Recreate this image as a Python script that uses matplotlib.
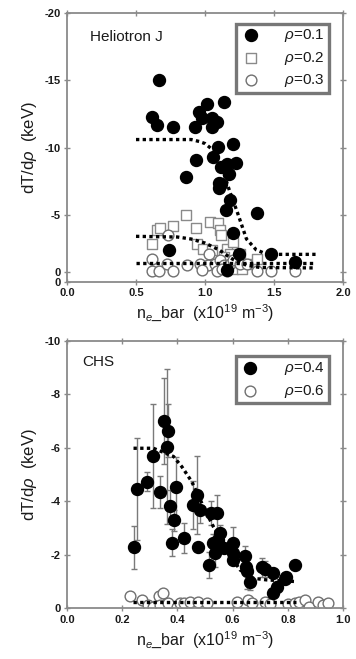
import numpy as np
import matplotlib
matplotlib.use("Agg")
import matplotlib.pyplot as plt

plt.rcParams.update({
    "font.family": ["Liberation Sans", "DejaVu Sans"],
    "mathtext.fontset": "custom",
    "mathtext.rm": "Liberation Sans",
    "mathtext.it": "Liberation Sans:italic",
})

# --- Heliotron J (top panel) ------------------------------------------------ #
hj_r1_x = [0.670, 0.614, 0.655, 0.771, 0.860, 0.737, 0.928, 0.959, 0.981, 1.012,
           1.048, 1.050, 1.089, 1.137, 0.935, 1.096, 1.060, 1.205, 1.113, 1.157,
           1.222, 1.176, 1.101, 1.116, 1.101, 1.181, 1.149, 1.378, 1.200, 1.246,
           1.475, 1.648, 1.157]
hj_r1_y = [-15.05, -12.26, -11.67, -11.57, -7.79, -2.41, -11.57, -12.64, -12.19, -13.26,
           -12.19, -11.54, -11.94, -13.43, -9.08, -10.05, -9.28, -10.27, -8.58, -8.76,
           -8.83, -8.03, -7.39, -7.26, -6.97, -6.09, -5.35, -5.17, -3.68, -2.06,
           -2.06, -1.49, -0.87]

hj_r2_x = [0.614, 0.651, 0.675, 0.771, 0.860, 0.935, 0.940, 0.988, 1.036, 1.096,
           1.108, 1.113, 1.157, 1.205, 1.181, 1.253, 1.313, 1.205, 1.265, 1.048,
           1.373, 1.140, 1.170]
hj_r2_y = [-2.86, -3.86, -4.03, -4.15, -4.98, -4.03, -2.86, -2.49, -4.48, -4.40,
           -3.86, -3.53, -2.49, -2.99, -2.11, -2.11, -1.37, -1.00, -1.00, -2.36,
           -1.74, -1.90, -1.60]

hj_r3_x = [0.614, 0.614, 0.670, 0.735, 0.728, 0.771, 0.867, 0.964, 1.031, 1.024,
           1.072, 1.108, 1.137, 1.181, 1.205, 1.253, 1.157, 1.301, 1.373, 1.475,
           1.648, 0.976, 1.084, 1.120]
hj_r3_y = [-1.74, -0.82, -0.82, -3.48, -1.37, -0.82, -1.24, -1.32, -2.11, -1.24,
           -1.37, -1.67, -1.24, -1.37, -1.62, -1.37, -0.82, -1.37, -0.82, -0.82,
           -0.82, -0.87, -0.82, -1.00]

hj_fit1_x = [0.5, 0.9, 0.96, 1.0, 1.06, 1.12, 1.18, 1.23, 1.30, 1.37, 1.45, 1.8]
hj_fit1_y = [-10.6, -10.6, -10.45, -10.3, -9.8, -8.6, -6.7, -5.3, -3.2, -2.4, -2.06, -2.06]
hj_fit2_x = [0.5, 0.8, 0.9, 1.0, 1.1, 1.2, 1.3, 1.4, 1.8]
hj_fit2_y = [-3.4, -3.35, -3.2, -2.9, -2.4, -1.7, -1.25, -1.08, -1.05]
hj_fit3_x = [0.5, 1.8]
hj_fit3_y = [-1.45, -1.45]

# --- CHS (bottom panel) ----------------------------------------------------- #
chs_r4_x = [0.241, 0.255, 0.289, 0.311, 0.337, 0.353, 0.365, 0.361, 0.373, 0.386,
            0.382, 0.395, 0.425, 0.455, 0.470, 0.482, 0.476, 0.516, 0.520, 0.542,
            0.530, 0.536, 0.548, 0.554, 0.569, 0.602, 0.600, 0.602, 0.645, 0.648,
            0.653, 0.663, 0.705, 0.717, 0.747, 0.745, 0.759, 0.789, 0.793, 0.825]
chs_r4_y = [-2.28, -4.45, -4.73, -5.69, -4.36, -7.01, -6.64, -6.04, -3.82, -3.28,
            -2.45, -4.55, -2.62, -3.86, -4.23, -3.67, -2.28, -1.62, -3.55, -3.57,
            -2.43, -2.05, -2.55, -2.80, -2.24, -2.45, -2.05, -1.80, -1.96, -1.56,
            -1.41, -1.00, -1.53, -1.46, -1.33, -0.56, -0.81, -1.08, -1.18, -1.62]
chs_r4_err = [0.80, 1.90, 0.35, 1.95, 0.60, 1.60, 1.00, 2.90, 0.60, 0.40,
              0.50, 1.10, 0.55, 0.90, 1.45, 0.50, 0.00, 0.50, 0.45, 0.65,
              0.35, 0.50, 0.30, 0.30, 0.00, 0.60, 0.30, 0.00, 0.35, 0.30,
              0.70, 0.30, 0.35, 0.30, 0.00, 0.00, 0.20, 0.00, 0.00, 0.00]

chs_r6_x = [0.229, 0.271, 0.295, 0.313, 0.335, 0.347, 0.337, 0.367, 0.398, 0.410,
            0.422, 0.446, 0.476, 0.506, 0.614, 0.657, 0.669, 0.717, 0.735, 0.801,
            0.825, 0.841, 0.861, 0.877, 0.910, 0.928, 0.946]
chs_r6_y = [-0.44, -0.29, -0.12, -0.06, -0.44, -0.56, -0.12, -0.21, -0.06, -0.19,
            -0.21, -0.25, -0.25, -0.21, -0.25, -0.29, -0.19, -0.25, -0.16, -0.16,
            -0.19, -0.25, -0.29, -0.06, -0.25, -0.12, -0.19]

chs_fit4_x = [0.241, 0.313, 0.386, 0.416, 0.452, 0.494, 0.530, 0.578, 0.627, 0.675, 0.723, 0.825]
chs_fit4_y = [-5.98, -5.98, -5.67, -5.29, -4.73, -3.80, -3.05, -2.18, -1.43, -1.12, -1.06, -1.00]
chs_fit6_x = [0.24, 0.83]
chs_fit6_y = [-0.22, -0.22]

SPINE = "#8a8a8a"
TXT = "#1a1a1a"
DOT = (0, (1.0, 1.0))
S_FILL, S_OPEN, S_SQ = 74, 60, 54


def style_axes(ax):
    for s in ax.spines.values():
        s.set_color(SPINE)
        s.set_linewidth(1.3)
    ax.tick_params(direction="inout", length=5, width=1.0, color=SPINE,
                   top=True, right=True, labelsize=8, labelcolor=TXT, pad=2)
    for lab in ax.get_xticklabels() + ax.get_yticklabels():
        lab.set_fontweight("bold")
    ax.set_ylabel(r"dT/d$\it{\rho}$  (keV)", fontsize=12, color=TXT, labelpad=4)
    ax.set_xlabel(r"n$_e$_bar  (x10$^{19}$ m$^{-3}$)", fontsize=11.5, color=TXT, labelpad=3)


def style_legend(leg):
    fr = leg.get_frame()
    fr.set_edgecolor("#777777")
    fr.set_linewidth(2.4)
    for t in leg.get_texts():
        t.set_color(TXT)


fig = plt.figure(figsize=(3.56, 6.59), dpi=100)

# top panel
ax1 = fig.add_axes([0.188, 0.572, 0.776, 0.408])
for fx, fy in [(hj_fit1_x, hj_fit1_y), (hj_fit2_x, hj_fit2_y), (hj_fit3_x, hj_fit3_y)]:
    ax1.plot(fx, fy, color="k", lw=2.4, ls=DOT, zorder=3)
ax1.scatter(hj_r1_x, hj_r1_y, s=S_FILL, color="k", edgecolors="k", zorder=4,
            label=r"$\it{\rho}$=0.1")
ax1.scatter(hj_r2_x, hj_r2_y, s=S_SQ, marker="s", facecolors="white",
            edgecolors="#8a8a8a", linewidths=1.0, zorder=2, label=r"$\it{\rho}$=0.2")
ax1.scatter(hj_r3_x, hj_r3_y, s=S_OPEN, facecolors="white", edgecolors="#707070",
            linewidths=1.0, zorder=2, label=r"$\it{\rho}$=0.3")
ax1.set_xlim(0, 2.0)
ax1.set_ylim(0, -20)
ax1.set_xticks([0.0, 0.5, 1.0, 1.5, 2.0], labels=["0.0", "0.5", "1.0", "1.5", "2.0"])
ax1.set_yticks([-20, -15, -10, -5, -0.75, 0], labels=["-20", "-15", "-10", "-5", "0", "0"])
style_axes(ax1)
ax1.text(0.084, 0.913, "Heliotron J", transform=ax1.transAxes, fontsize=11,
         color=TXT, va="center")
leg1 = ax1.legend(loc="upper right", bbox_to_anchor=(0.975, 0.99), fontsize=11,
                  handletextpad=1.5, labelspacing=0.35, borderpad=0.25,
                  handlelength=1.4, fancybox=False, framealpha=1)
style_legend(leg1)

# bottom panel
ax2 = fig.add_axes([0.188, 0.077, 0.776, 0.406])
for fx, fy in [(chs_fit4_x, chs_fit4_y), (chs_fit6_x, chs_fit6_y)]:
    ax2.plot(fx, fy, color="k", lw=2.4, ls=DOT, zorder=3)
ax2.errorbar(chs_r4_x, chs_r4_y, yerr=chs_r4_err, fmt="none", ecolor="#7a7a7a",
             elinewidth=1.0, capsize=2.5, capthick=1.0, zorder=2)
ax2.scatter(chs_r4_x, chs_r4_y, s=S_FILL, color="k", edgecolors="k", zorder=4,
            label=r"$\it{\rho}$=0.4")
ax2.scatter(chs_r6_x, chs_r6_y, s=S_OPEN, facecolors="white", edgecolors="#707070",
            linewidths=1.0, zorder=2, label=r"$\it{\rho}$=0.6")
ax2.set_xlim(0, 1.0)
ax2.set_ylim(0, -10)
ax2.set_xticks(np.arange(0, 1.01, 0.2), labels=["0.0", "0.2", "0.4", "0.6", "0.8", "1.0"])
ax2.set_yticks([-10, -8, -6, -4, -2, 0], labels=["-10", "-8", "-6", "-4", "-2", "0"])
style_axes(ax2)
ax2.text(0.054, 0.92, "CHS", transform=ax2.transAxes, fontsize=11,
         color=TXT, va="center")
leg2 = ax2.legend(loc="upper right", bbox_to_anchor=(0.975, 0.97), fontsize=11,
                  handletextpad=1.5, labelspacing=0.35, borderpad=0.25,
                  handlelength=1.4, fancybox=False, framealpha=1)
style_legend(leg2)

fig.savefig("out.png", dpi=100, facecolor="white")
